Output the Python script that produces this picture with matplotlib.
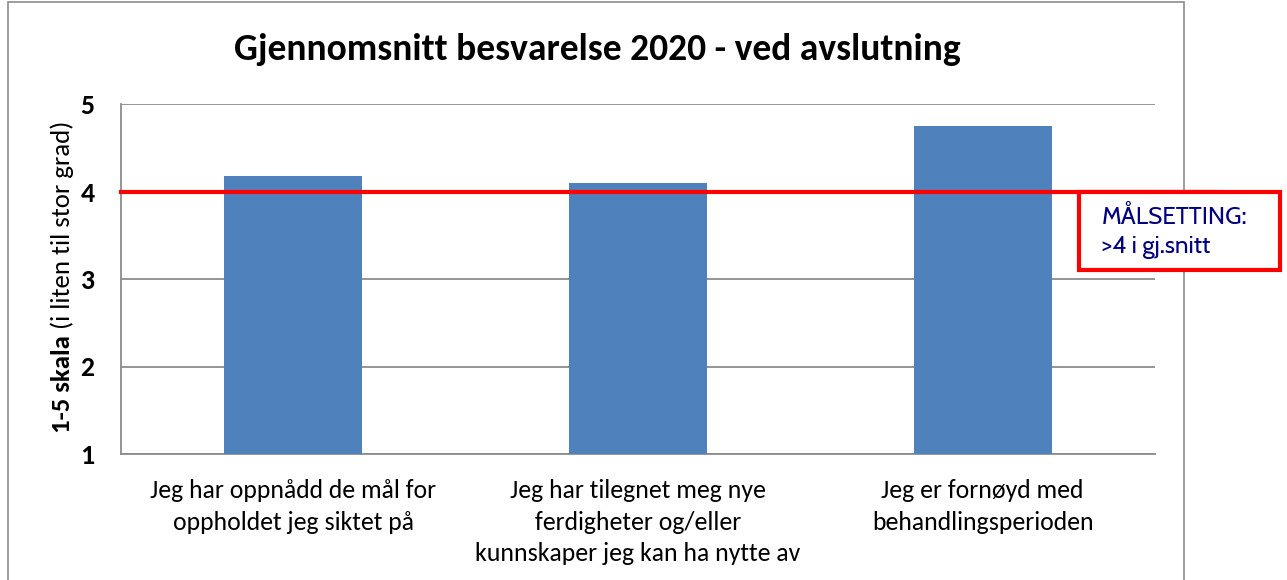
import matplotlib
matplotlib.use("Agg")
import matplotlib.pyplot as plt
from matplotlib.patches import Rectangle

# data
categories = [
    "Jeg har oppnådd de mål for\noppholdet jeg siktet på",
    "Jeg har tilegnet meg nye\nferdigheter og/eller\nkunnskaper jeg kan ha nytte av",
    "Jeg er fornøyd med\nbehandlingsperioden",
]
values = [4.18, 4.10, 4.75]
target = 4
yticks = [1, 2, 3, 4, 5]

W, H = 1287, 580
plt.rcParams['font.family'] = ['Carlito', 'DejaVu Sans']

fig = plt.figure(figsize=(W / 100, H / 100), dpi=100)
fig.patch.set_facecolor('white')

# outer chart frame
fig.patches.append(Rectangle((8 / W, -0.05), (1184 - 8) / W, 1.05 - 2 / H,
                             transform=fig.transFigure, fill=False,
                             edgecolor='#8c8c8c', lw=1.2))

ax = fig.add_axes([121 / W, 1 - 454 / H, (1155 - 121) / W, (454 - 104) / H])
x = list(range(len(categories)))
ax.bar(x, values, width=0.4, color='#4f81bd', bottom=0, zorder=3)
ax.set_xlim(-0.5, 2.5)
ax.set_ylim(1, 5)
ax.set_yticks(yticks)
ax.set_yticklabels([str(t) for t in yticks], fontsize=20, fontweight='bold')
ax.set_xticks(x)
ax.set_xticklabels(categories, fontsize=18.5, linespacing=1.45)
ax.tick_params(length=0, pad=18)
ax.tick_params(axis='y', pad=19)
ax.grid(axis='y', color='#8c8c8c', lw=1.3, zorder=0)
for s in ['top', 'right']:
    ax.spines[s].set_visible(False)
for s in ['left', 'bottom']:
    ax.spines[s].set_color('#8c8c8c')
    ax.spines[s].set_linewidth(1.3)

# target line, runs out past the frame
ax.axhline(target, xmin=0, xmax=(1220 - 121) / (1155 - 121), color='#ff0000',
           lw=3.0, clip_on=False, zorder=4)

# target box
fig.patches.append(Rectangle((1079 / W, 1 - 270 / H), (1280 - 1079) / W, (270 - 192) / H,
                             transform=fig.transFigure, facecolor='white',
                             edgecolor='#ff0000', lw=3.0, zorder=5))
fig.text(1102 / W, 1 - 218 / H, "MÅLSETTING:", fontsize=17.5, color='#000080',
         va='center', ha='left', family='Cabin', zorder=6)
fig.text(1102 / W, 1 - 247 / H, ">4 i gj.snitt", fontsize=17.5, color='#000080',
         va='center', ha='left', family='Cabin', zorder=6)

fig.text(597 / W, 1 - 50 / H, "Gjennomsnitt besvarelse 2020 - ved avslutning",
         fontsize=27, fontweight='bold', ha='center', va='center')

# y label: bold part then normal part
t1 = fig.text(62 / W, 1 - 433 / H, "1-5 skala", rotation=90, fontsize=19.3,
              fontweight='bold', ha='center', va='bottom')
fig.canvas.draw()
bb = t1.get_window_extent()
fig.text(62 / W, (bb.y1 + 6) / H, "(i liten til stor grad)", rotation=90,
         fontsize=19.3, ha='center', va='bottom')

fig.savefig("out.png", dpi=100)
